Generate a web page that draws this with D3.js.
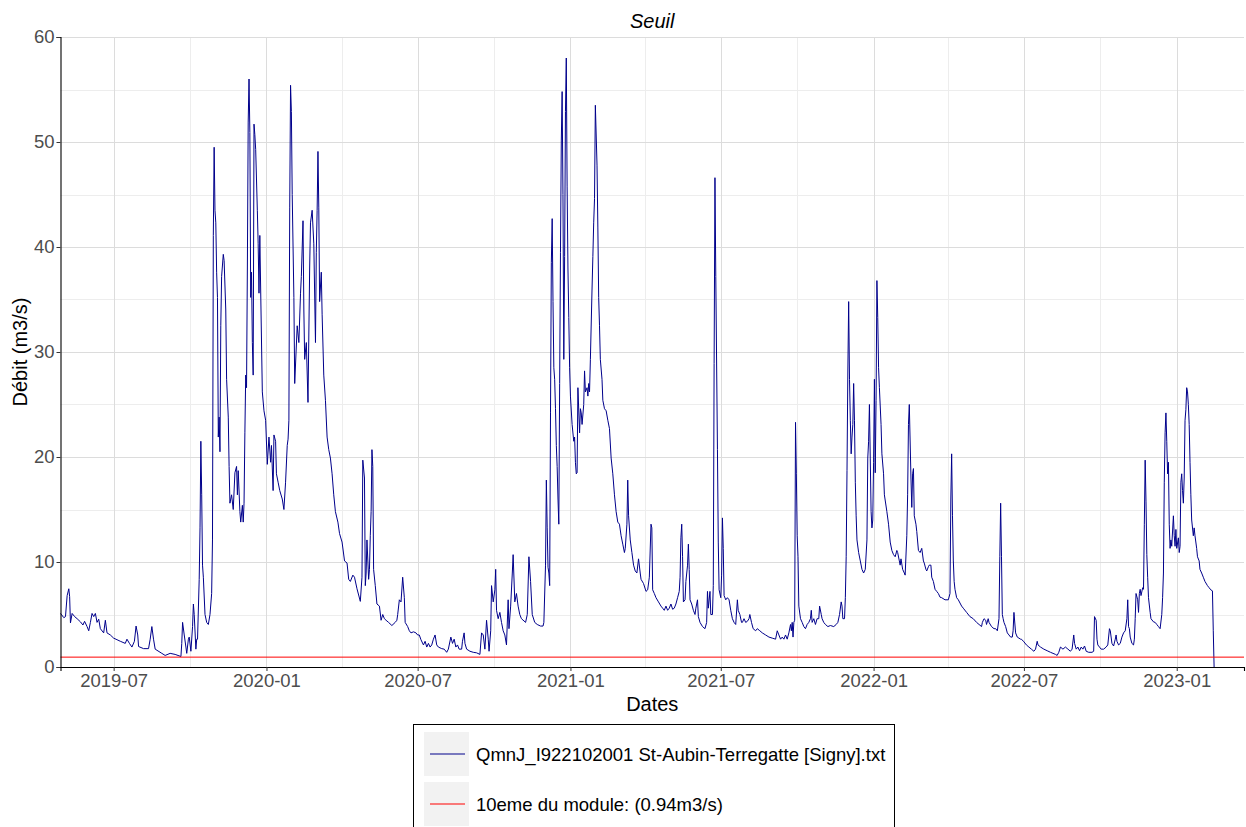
<!DOCTYPE html>
<html><head><meta charset="utf-8">
<script src="https://cdn.jsdelivr.net/npm/d3@7"></script>
<style>
body{margin:0;background:#fff;}
svg{display:block;font-family:"Liberation Sans",Arial,sans-serif;}
</style>
</head><body>
<svg id="chart" width="1246" height="827"></svg>
<script>
// ---------- data ----------
const chartTitle = "Seuil";
const xTitle = "Dates";
const yTitle = "Débit (m3/s)";
const seriesNames = ["QmnJ_I922102001 St-Aubin-Terregatte [Signy].txt", "10eme du module: (0.94m3/s)"];
const thresholdValue = 0.94;
const referenceDate = "2019-07-01";          // day 0 of dayOffsets
const xDomainDates = ["2019-04-28", "2023-03-23"];
const xTickLabels = ["2019-07","2020-01","2020-07","2021-01","2021-07","2022-01","2022-07","2023-01"];
const xMinorTickLabels = ["2019-10","2020-04","2020-10","2021-04","2021-10","2022-04","2022-10"];
const yTicks = [0,10,20,30,40,50,60];
const yMinorTicks = [5,15,25,35,45,55];

// days since referenceDate
const dayOffsets = [
-64,-60,-58,-56,-54,-53,-52,-50,-47,-44,-40,-37,-35,-32,-30,-28,-26,-24,-22,-20,-18,-16,-12,-10,-8,-4,
0,4,8,14,16,19,22,25,27,29,30,36,42,44,46,48,50,58,62,68,74,81,82,83,85,87,88,90,91,93,95,96,97,99,100,101,
103,104,105,106,107,108,110,112,114,116,118,119,120,121,122,123,124,125,126,127,128,129,130,132,133,135,136,138,139,140,
142,144,146,148,149,150,152,153,155,156,157,158,159,160,161,162,163,164,165,166,167,168,169,170,171,173,174,175,176,177,
179,181,183,185,187,189,190,192,193,195,196,198,200,203,205,207,209,210,211,212,213,214,215,217,218,
221,223,225,226,228,229,230,232,234,236,237,239,241,243,244,245,246,247,248,250,251,253,255,257,259,261,263,265,267,270,
272,275,278,281,283,285,288,290,293,297,299,300,302,303,304,305,307,308,309,310,311,312,313,315,317,320,322,324,326,328,
331,335,339,341,342,344,346,348,350,351,354,356,358,361,364,366,368,370,373,375,377,379,381,383,385,387,389,391,395,398,
401,403,406,408,410,412,414,416,419,420,422,423,425,429,433,437,441,443,445,447,449,451,452,454,455,457,459,460,461,463,
465,467,469,471,473,475,476,478,480,481,483,485,487,489,491,496,498,500,502,504,507,510,514,
517,518,520,521,522,523,524,525,526,527,528,529,530,531,532,533,534,535,536,537,538,539,540,541,542,543,544,545,546,547,
548,549,550,552,554,555,556,557,558,559,561,562,563,564,566,567,568,570,571,572,573,574,576,577,578,579,580,582,583,584,
585,586,588,589,591,593,595,597,599,601,603,605,607,609,611,613,615,616,618,619,620,622,624,626,628,630,632,634,635,638,
641,643,645,647,648,649,651,653,656,659,661,663,665,667,669,671,673,675,677,679,681,682,683,684,685,686,688,689,691,692,
693,694,696,698,700,701,703,704,706,709,712,714,715,716,718,719,721,722,723,724,725,727,728,729,731,732,733,734,735,737,
739,741,743,745,747,749,751,752,754,756,757,759,761,763,765,766,768,770,773,775,778,781,785,789,793,797,799,801,803,
805,807,809,811,813,815,816,817,818,819,820,821,822,823,824,825,827,829,831,833,835,837,839,840,841,843,845,847,849,850,
852,853,855,857,860,863,867,870,872,874,876,877,878,880,881,882,883,884,885,886,887,888,889,890,891,892,893,894,895,897,
899,901,903,905,907,908,909,910,911,912,913,914,915,916,917,918,919,920,921,922,924,925,927,928,931,933,935,937,939,941,
943,944,946,947,948,950,952,953,955,956,957,958,960,961,962,963,964,966,967,969,971,973,975,976,978,979,981,982,984,985,
987,989,991,993,995,997,1001,1005,1007,1008,1009,1010,1011,1012,1013,1015,1017,1021,1023,1027,1031,1035,1039,1042,1045,1046,1048,1050,1051,1053,
1054,1057,1060,1062,1064,1066,1067,1068,1069,1070,1071,1072,1074,1076,1078,1080,1082,1083,1084,1086,1088,1090,1092,
1093,1096,1099,1102,1105,1108,1110,1112,1113,1116,1120,1124,1128,1131,1134,1136,1138,1140,1143,1146,1149,1152,1154,1156,1157,1159,
1161,1163,1165,1167,1169,1171,1174,1178,1180,1181,1183,1184,1185,1187,1189,1192,1195,1197,1199,1200,1202,1204,1206,1207,1208,1210,
1212,1214,1216,1218,1220,1221,1222,1223,1224,1226,1228,1229,1230,1231,1233,1234,1235,1236,1237,1239,1240,1241,1242,1243,1244,1245,
1246,1248,1249,1252,1254,1256,1258,1260,1262,1263,1264,1265,1266,1267,1268,1269,1270,1271,1272,1273,1274,1276,1277,1278,1279,1280,
1282,1283,1284,1285,1286,1287,1288,1289,1290,1291,1292,1293,1294,1295,1296,1297,1298,1300,1301,1302,1304,1305,1307,1308,1310,1312,
1314,1317,1319,1321,1323,1324,1325
];

// daily flow (m3/s) at those days
const flows = [
5.1,4.7,4.8,6.8,7.45,6.7,4.2,5.1,4.8,4.6,4.3,4.0,4.35,3.85,3.45,4.25,5.1,4.8,5.1,4.25,4.55,3.65,3.25,4.45,3.25,3.05,
2.75,2.6,2.45,2.25,2.65,2.25,1.9,2.45,3.9,3.05,1.95,1.75,1.75,2.65,3.85,2.65,1.7,1.3,1.1,1.3,1.2,1.0,2.25,4.25,3.05,1.9,1.3,2.65,2.85,1.5,3.85,6.0,5.0,1.7,2.65,2.65,
8.35,13.25,21.5,16.4,9.7,8.55,5.0,4.25,4.05,5.0,7.0,12.1,41.1,49.5,43.5,42.3,37.6,35.2,21.9,23.8,20.5,32.5,37.2,39.3,38.7,34.0,27.4,23.8,19.1,15.6,
16.4,15.0,18.5,19.1,16.4,18.7,14.8,13.8,15.4,13.8,15.6,22.3,27.8,26.6,38.0,51.9,56.0,50.9,35.2,37.6,30.9,27.8,51.7,50.7,49.3,43.5,40.3,35.6,41.1,36.0,
26.2,24.4,23.5,19.3,21.9,19.5,21.1,16.8,22.1,21.5,18.4,17.6,16.8,16.0,15.0,17.6,21.1,21.7,23.5,43.8,55.4,52.9,45.0,35.2,27.0,
32.5,30.9,35.6,37.2,42.5,34.0,29.3,30.9,25.2,38.0,42.3,43.5,40.3,30.9,39.5,43.5,49.1,43.8,34.8,37.6,33.6,27.8,25.4,21.9,20.7,19.9,18.4,16.4,14.8,13.8,
12.7,11.9,10.1,9.9,8.35,8.15,8.75,8.55,7.45,6.25,8.55,19.7,18.0,7.75,8.95,12.1,8.35,9.3,12.5,14.8,20.7,19.1,9.3,7.75,6.0,5.8,4.45,5.0,4.6,4.45,
4.25,3.95,4.25,4.45,5.0,6.4,6.2,8.55,6.6,4.25,3.85,3.45,3.25,3.35,3.25,3.05,3.05,2.6,2.1,2.45,1.9,2.25,1.9,2.1,2.65,3.05,2.1,1.9,1.75,1.7,
1.4,1.7,2.85,2.25,2.65,1.9,2.1,1.7,1.7,2.45,3.25,2.25,1.7,1.5,1.4,1.35,1.2,3.25,3.05,1.7,4.45,2.65,1.5,3.45,7.75,6.2,7.35,9.3,5.4,4.6,
5.2,4.25,3.45,3.05,2.1,6.4,3.65,5.8,8.95,10.7,6.2,7.0,5.8,5.0,4.6,4.25,5.0,10.5,8.15,5.0,4.25,4.05,3.9,
3.9,4.25,9.7,17.8,13.25,9.5,8.95,7.75,24.2,38.5,42.7,34.8,28.5,27.4,24.6,21.1,19.1,16.0,13.6,27.0,39.5,50.1,54.8,45.0,29.3,39.1,52.9,58.0,45.8,38.0,
33.3,28.5,25.8,23.1,21.5,21.9,19.5,18.4,18.5,26.6,22.3,24.6,24.2,23.1,25.0,28.2,26.2,26.6,25.8,27.0,26.2,29.3,36.0,39.1,42.3,44.6,53.5,47.8,41.9,35.2,
32.5,29.3,27.4,25.4,24.6,24.4,23.5,22.7,19.9,18.4,16.4,14.8,13.8,13.6,12.5,11.7,10.9,11.3,13.6,17.8,14.4,12.1,10.9,9.7,9.15,8.95,10.3,8.95,8.35,7.95,
7.2,7.35,8.55,13.6,13.25,7.35,7.0,6.6,6.2,5.8,5.6,5.4,5.8,5.4,5.6,6.0,5.5,5.6,6.0,6.6,7.2,8.55,12.3,13.6,10.5,6.2,6.4,8.15,9.7,11.7,
9.3,6.4,6.0,5.4,5.0,5.6,6.4,4.8,4.25,3.85,3.65,4.25,7.2,5.6,7.2,5.0,5.0,7.75,28.9,46.6,37.2,20.7,11.9,7.35,6.6,8.75,14.2,11.3,6.8,6.4,
6.6,6.4,5.4,4.6,4.25,4.05,6.4,5.4,5.0,4.25,4.25,4.6,4.25,4.35,4.6,5.0,4.25,3.65,3.45,3.65,3.45,3.25,3.05,2.85,2.75,2.65,3.45,3.05,2.65,
2.85,2.65,3.05,2.65,3.25,4.05,3.45,4.25,2.85,4.25,4.45,23.3,18.4,12.5,10.5,5.8,4.6,4.25,3.85,3.65,4.05,4.25,4.6,5.4,4.25,4.6,4.05,4.6,4.6,5.8,
5.0,4.6,4.25,4.05,3.85,3.95,3.85,4.05,4.25,5.0,6.2,5.8,4.6,4.6,6.6,10.5,18.7,28.0,34.8,27.4,23.5,20.3,21.9,23.1,27.0,23.5,17.6,14.4,12.1,10.9,
10.1,9.3,8.95,9.3,12.1,19.9,21.5,25.0,19.9,14.8,13.25,14.0,19.5,27.4,18.5,25.4,36.8,33.3,28.5,26.6,23.1,20.3,18.4,16.4,14.8,13.6,11.9,11.1,10.7,10.5,
11.1,10.9,10.1,9.7,10.3,9.3,8.95,8.75,12.5,16.4,23.1,25.0,18.0,15.2,18.4,18.9,14.4,13.6,12.9,11.1,10.9,11.3,10.1,9.9,9.3,9.15,9.55,9.7,9.7,8.55,
8.15,7.4,7.2,7.0,6.65,6.6,6.4,6.4,7.0,16.0,20.3,14.4,10.1,8.15,7.4,6.6,6.4,5.8,5.6,5.2,4.8,4.6,4.25,4.05,3.85,4.25,4.6,4.45,4.05,4.6,
4.25,3.85,3.65,3.65,3.45,4.6,10.5,15.6,10.5,5.0,4.6,4.25,3.85,3.25,3.05,2.85,2.85,3.45,5.2,3.25,2.85,2.75,2.65,
2.65,2.4,2.1,1.9,1.7,1.5,1.7,2.45,2.1,1.9,1.7,1.55,1.4,1.3,1.2,1.1,1.4,1.9,1.7,1.9,1.7,1.5,1.7,3.05,2.25,1.7,
1.9,1.55,1.9,1.7,2.0,1.5,1.4,1.4,1.5,4.8,4.45,2.65,2.1,1.9,1.7,1.7,1.9,2.1,3.65,3.45,2.25,2.0,2.65,3.05,2.45,2.1,
2.25,2.85,3.25,3.45,4.6,6.4,3.85,3.65,2.85,2.25,2.1,2.65,4.6,7.0,6.4,5.2,7.0,7.4,6.8,7.55,7.4,13.6,19.7,15.8,10.7,8.55,
6.6,5.2,4.6,4.3,4.25,4.05,3.85,3.65,5.0,6.6,8.95,17.6,22.3,24.2,21.5,18.4,19.5,13.6,11.3,12.1,11.5,14.4,12.5,11.5,13.1,11.3,
12.3,10.9,11.5,17.6,18.4,16.8,15.6,18.0,23.5,24.5,26.6,26.2,25.0,23.1,19.5,16.4,14.0,12.5,13.25,12.5,11.3,10.5,10.1,9.3,8.95,8.55,
8.15,7.75,7.55,7.35,7.25,3.45,0
];

// ---------- layout ----------
const W = 1246, H = 827;
const panel = {left: 60.5, right: 1244, top: 37, bottom: 667};
const parseMonth = d3.utcParse("%Y-%m");
const parseDay = d3.utcParse("%Y-%m-%d");
const ref = parseDay(referenceDate);
const data = dayOffsets.map((d, i) => ({date: d3.utcDay.offset(ref, d), value: flows[i]}));

const svg = d3.select("#chart");
svg.append("rect").attr("width", W).attr("height", H).attr("fill", "#fff");

const x = d3.scaleUtc().domain(xDomainDates.map(parseDay)).range([panel.left, panel.right]);
const y = d3.scaleLinear().domain([0, 60]).range([panel.bottom, panel.top]);
const px = v => Math.round(v) + 0.5;

// grid
const grid = svg.append("g");
grid.selectAll("line.ymin").data(yMinorTicks).join("line")
  .attr("x1", panel.left).attr("x2", panel.right)
  .attr("y1", d => px(y(d))).attr("y2", d => px(y(d)))
  .attr("stroke", "#ededed").attr("stroke-width", 1);
grid.selectAll("line.xmin").data(xMinorTickLabels.map(parseMonth)).join("line")
  .attr("y1", panel.top).attr("y2", panel.bottom)
  .attr("x1", d => px(x(d))).attr("x2", d => px(x(d)))
  .attr("stroke", "#ededed").attr("stroke-width", 1);
grid.selectAll("line.ymaj").data(yTicks).join("line")
  .attr("x1", panel.left).attr("x2", panel.right)
  .attr("y1", d => px(y(d))).attr("y2", d => px(y(d)))
  .attr("stroke", "#dcdcdc").attr("stroke-width", 1);
grid.selectAll("line.xmaj").data(xTickLabels.map(parseMonth)).join("line")
  .attr("y1", panel.top).attr("y2", panel.bottom)
  .attr("x1", d => px(x(d))).attr("x2", d => px(x(d)))
  .attr("stroke", "#dcdcdc").attr("stroke-width", 1);

// series
const line = d3.line().x(d => x(d.date)).y(d => y(d.value));
svg.append("path").datum(data).attr("d", line)
  .attr("fill", "none").attr("stroke", "#00008B").attr("stroke-width", 1)
  .attr("stroke-linejoin", "round");

// threshold
svg.append("line")
  .attr("x1", panel.left).attr("x2", panel.right)
  .attr("y1", y(thresholdValue)).attr("y2", y(thresholdValue))
  .attr("stroke", "#FF0000").attr("stroke-width", 1);

// axes
const tickFont = "18.5px";
const yAxis = svg.append("g").attr("transform", `translate(${panel.left},0)`)
  .call(d3.axisLeft(y).tickValues(yTicks).tickSize(4).tickPadding(2).tickFormat(d3.format("d")));
const xAxis = svg.append("g").attr("transform", `translate(0,${panel.bottom})`)
  .call(d3.axisBottom(x).tickValues(xTickLabels.map(parseMonth)).tickSize(4).tickPadding(3)
    .tickFormat(d3.utcFormat("%Y-%m")));
[yAxis, xAxis].forEach(g => {
  g.select(".domain").attr("stroke", "#000").attr("stroke-width", 1.1);
  g.selectAll(".tick line").attr("stroke", "#333");
  g.selectAll(".tick text").attr("fill", "#4d4d4d")
    .style("font-size", tickFont).style("font-family", "'Liberation Sans', Arial, sans-serif");
});

// titles
svg.append("text").attr("x", (panel.left + panel.right) / 2).attr("y", 28)
  .attr("text-anchor", "middle").style("font-size", "20px").style("font-style", "italic")
  .attr("fill", "#000").text(chartTitle);
svg.append("text").attr("x", (panel.left + panel.right) / 2).attr("y", 711)
  .attr("text-anchor", "middle").style("font-size", "20px").attr("fill", "#000").text(xTitle);
svg.append("text").attr("transform", `translate(27,${(panel.top + panel.bottom) / 2}) rotate(-90)`)
  .attr("text-anchor", "middle").style("font-size", "20px").attr("fill", "#000").text(yTitle);

// legend
const lg = svg.append("g");
lg.append("rect").attr("x", 413.5).attr("y", 724.5).attr("width", 481).attr("height", 120)
  .attr("fill", "#fff").attr("stroke", "#000").attr("stroke-width", 1);
const legendColors = ["#00008B", "#FF0000"];
seriesNames.forEach((name, i) => {
  const top = 732 + i * 50;
  lg.append("rect").attr("x", 424).attr("y", top).attr("width", 45).attr("height", 44).attr("fill", "#f2f2f2");
  lg.append("line").attr("x1", 430).attr("x2", 465).attr("y1", top + 22).attr("y2", top + 22)
    .attr("stroke", legendColors[i]).attr("stroke-width", 1);
  lg.append("text").attr("x", 476).attr("y", top + 28.6).style("font-size", "18.5px")
    .attr("fill", "#000").text(name);
});
</script>
</body></html>
